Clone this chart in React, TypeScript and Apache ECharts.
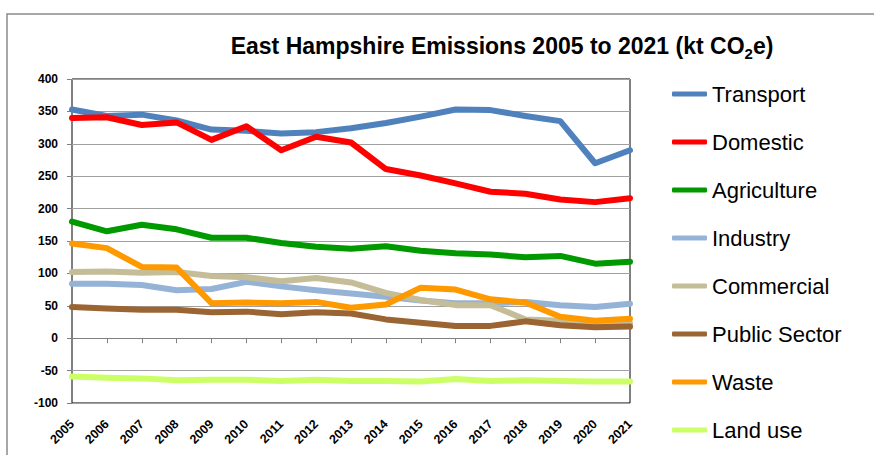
import React, { useEffect, useRef } from "react";
import * as echarts from "echarts";

const years = ["2005","2006","2007","2008","2009","2010","2011","2012","2013","2014","2015","2016","2017","2018","2019","2020","2021"];
const transport = [353, 343, 345, 336, 322, 320, 316, 318, 324, 332, 342, 353, 352, 343, 335, 270, 290];
const domestic = [340, 341, 329, 333, 306, 327, 290, 311, 302, 261, 251, 239, 226, 223, 214, 210, 216];
const agriculture = [180, 165, 175, 168, 155, 155, 147, 141, 138, 142, 135, 131, 129, 125, 127, 115, 118];
const industry = [84, 84, 82, 74, 76, 87, 80, 74, 69, 64, 58, 54, 54, 56, 51, 48, 53];
const commercial = [102, 103, 101, 102, 96, 94, 88, 93, 86, 70, 59, 51, 51, 29, 27, 22, 23];
const publicSector = [48, 46, 44, 44, 40, 41, 37, 40, 38, 29, 24, 19, 19, 26, 20, 17, 18];
const waste = [146, 139, 110, 109, 54, 55, 54, 56, 47, 52, 78, 75, 60, 55, 33, 27, 30];
const landUse = [-59, -61, -62, -65, -64, -64, -66, -64, -66, -66, -67, -63, -66, -65, -66, -67, -67];

const seriesNames = ["Transport","Domestic","Agriculture","Industry","Commercial","Public Sector","Waste","Land use"];
const seriesData = [transport, domestic, agriculture, industry, commercial, publicSector, waste, landUse];
const seriesColors = ["#4F81BD","#FF0000","#009900","#95B3D7","#C4BD97","#9A6532","#FF9900","#CCFF66"];

const FONT = "Liberation Sans, Arial, sans-serif";

export default function App() {
  const ref = useRef<HTMLDivElement>(null);
  useEffect(() => {
    if (!ref.current) return;
    const chart = echarts.init(ref.current, undefined, { renderer: "svg" });
    chart.setOption({
      animation: false,
      backgroundColor: "#fff",
      textStyle: { fontFamily: FONT },
      title: {
        text: "East Hampshire Emissions 2005 to 2021 (kt CO{sub|2}e)",
        left: 502,
        top: 31,
        textAlign: "center",
        padding: 0,
        textStyle: {
          fontFamily: FONT,
          fontWeight: "bold",
          fontSize: 23,
          color: "#000",
          rich: {
            sub: {
              fontFamily: FONT,
              fontWeight: "bold",
              fontSize: 15,
              color: "#000",
              padding: [15, 0, 0, 0],
            },
          },
        },
      },
      legend: {
        orient: "vertical",
        left: 667,
        top: 77,
        icon: "roundRect",
        itemWidth: 35,
        itemHeight: 5,
        itemGap: 24,
        data: seriesNames,
        textStyle: {
          fontFamily: FONT,
          fontSize: 22,
          lineHeight: 24,
          color: "#000",
        },
      },
      graphic: [
        {
          type: "polyline",
          shape: { points: [[7, 460], [7, 14], [880, 14]] },
          style: { stroke: "#8a8a8a", lineWidth: 1.5, fill: "none" },
          silent: true,
        },
      ],
      grid: {
        left: 72,
        top: 79,
        right: 244,
        bottom: 52,
        show: true,
        borderColor: "#000",
        borderWidth: 1,
        containLabel: false,
      },
      xAxis: [
        {
          type: "category",
          data: years,
          boundaryGap: false,
          axisLine: { show: true, onZero: true, lineStyle: { color: "#808080", width: 1.2 } },
          axisTick: { show: true, length: 5, inside: false, lineStyle: { color: "#808080" } },
          axisLabel: { show: false },
          splitLine: { show: false },
        },
        {
          type: "category",
          data: years,
          boundaryGap: false,
          position: "bottom",
          axisLine: { show: false, onZero: false },
          axisTick: { show: false },
          axisLabel: {
            rotate: 45,
            margin: 19,
            fontSize: 12.5,
            fontWeight: "bold",
            color: "#000",
            fontFamily: FONT,
            interval: 0,
          },
          splitLine: { show: false },
        },
      ],
      yAxis: {
        type: "value",
        min: -100,
        max: 400,
        interval: 50,
        axisLine: { show: false },
        axisTick: { show: true, length: 5, lineStyle: { color: "#808080" } },
        axisLabel: {
          margin: 14,
          fontSize: 12,
          fontWeight: "bold",
          color: "#000",
          fontFamily: FONT,
        },
        splitLine: { show: true, lineStyle: { color: "#a0a0a0", width: 1.2 } },
      },
      series: seriesNames.map((name, i) => ({
        name,
        type: "line",
        xAxisIndex: 0,
        data: seriesData[i],
        symbol: "none",
        showSymbol: false,
        color: seriesColors[i],
        lineStyle: { width: 6, color: seriesColors[i], cap: "round", join: "round" },
      })),
    });
    return () => chart.dispose();
  }, []);
  return (
    <div
      ref={ref}
      style={{ position: "absolute", left: 0, top: 0, width: 874, height: 455 }}
    />
  );
}
